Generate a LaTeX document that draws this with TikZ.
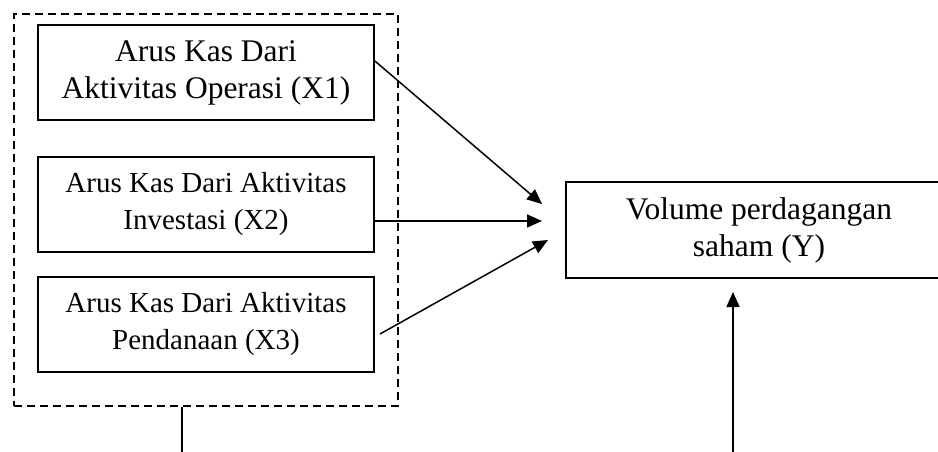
\documentclass[tikz,border=0pt]{standalone}
\usepackage{fontspec}
\setmainfont{Liberation Serif}
\usetikzlibrary{arrows.meta}
\begin{document}
\begin{tikzpicture}[x=1pt,y=-1pt,
  varbox/.style={draw, line width=1.8pt, minimum width=336pt, minimum height=95pt, align=center, inner sep=0pt},
  bigtxt/.style={font={\fontsize{31.5}{37}\selectfont}},
  smalltxt/.style={font={\fontsize{29}{37}\selectfont}},
  grpbox/.style={draw, dashed, dash pattern=on 8pt off 5pt, line width=1.5pt, minimum width=384pt, minimum height=392pt, inner sep=0pt},
  conn/.style={line width=1.5pt, -{Triangle[length=15pt,width=13pt]}},
  plain/.style={line width=1.5pt}]
\useasboundingbox (0,0) rectangle (938,452);
\clip (0,0) rectangle (938,452);
\node[grpbox] (grp) at (206,210) {};
\node[varbox, bigtxt] (x1) at (206,72.5) {Arus Kas Dari\\Aktivitas Operasi (X1)};
\node[varbox, smalltxt] (x2) at (206,204.5) {Arus Kas Dari Aktivitas\\Investasi (X2)};
\node[varbox, smalltxt] (x3) at (206,324.5) {Arus Kas Dari Aktivitas\\Pendanaan (X3)};
\node[draw, line width=1.8pt, minimum width=386pt, minimum height=96pt, align=center, inner sep=0pt, bigtxt] (y) at (759,230) {Volume perdagangan\\saham (Y)};
\coordinate (t1) at (542,204);
\coordinate (t2) at (542,221);
\coordinate (t3) at (548,240);
\coordinate (s3) at (380,334);
\coordinate (b1) at (182,452);
\coordinate (b2) at (733,452);
\coordinate (ty) at (733,292);
\draw[conn] ([yshift=11.5pt]x1.east) -- (t1);
\draw[conn] (x2.east |- t2) -- (t2);
\draw[conn] (s3) -- (t3);
\draw[plain] (grp.south -| b1) -- (b1);
\draw[conn] (b2) -- (ty);
\end{tikzpicture}
\end{document}
